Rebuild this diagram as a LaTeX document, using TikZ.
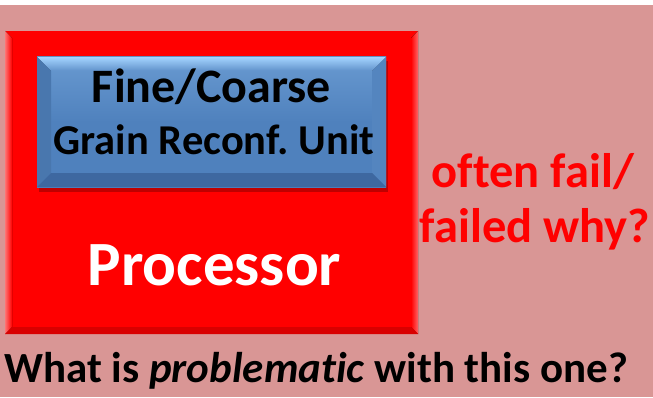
\documentclass[tikz,border=0pt]{standalone}
\usepackage{fontspec}
\setmainfont[Ligatures=NoCommon]{Carlito}
\usetikzlibrary{positioning}
\definecolor{slidepink}{RGB}{217,150,149}
\definecolor{procred}{RGB}{255,0,0}
\definecolor{unitblue}{RGB}{79,129,189}
\definecolor{unitlight}{RGB}{165,212,255}
\definecolor{unitdark}{RGB}{62,104,160}
\newcommand{\bigtxt}[1]{\fontsize{#1}{#1}\selectfont\bfseries}

\begin{document}
\begin{tikzpicture}[x=1pt, y=1pt,
        label/.style={inner sep=0pt, anchor=base, align=center},
        unittext/.style={label, text=black, font=\bigtxt{48}},
        redtext/.style={label, text=procred, font=\bigtxt{48.5}}]
        \useasboundingbox (0,0) rectangle (653,397);
        \fill[slidepink] (0,0) rectangle (653,392);
        % processor box with bevel
        \fill[procred] (5,63) rectangle (418,366);
        \fill[left color=red!55!white, right color=procred] (5,63) -- (12,70) -- (12,359) -- (5,366) -- cycle;
        \fill[left color=procred, right color=red!60!white] (418,63) -- (411,70) -- (411,359) -- (418,366) -- cycle;
        \fill[procred!85!black] (5,63) -- (12,70) -- (411,70) -- (418,63) -- cycle;
        % reconf unit box with bevel
        \fill[black, opacity=0.25] (39,205) rectangle (388,336);
        \fill[top color=unitblue!70!unitlight, bottom color=unitblue, middle color=unitblue] (37,210) rectangle (386,340);
        \fill[top color=unitlight, bottom color=unitblue!80!unitlight] (37,340) -- (51,326) -- (372,326) -- (386,340) -- cycle;
        \fill[unitblue!92!black] (37,210) -- (51,224) -- (51,326) -- (37,340) -- cycle;
        \fill[unitblue!97!white] (386,210) -- (372,224) -- (372,326) -- (386,340) -- cycle;
        \fill[unitdark] (37,210) -- (51,224) -- (372,224) -- (386,210) -- cycle;
        \node[unittext] (fine) at (211.5,294) {Fine/Coarse};
        \node[unittext, font=\bigtxt{42.5}] (grain) at (214,243) {Grain Reconf.\ Unit};
        \node[label, text=white, font=\bigtxt{63}] (proc) at (214.5,112) {Processor};
        % remarks
        \node[redtext] (fail1) at (533,210) {often fail/};
        \node[redtext] (fail2) at (535,155) {failed why?};
        \node[label, anchor=base west, font=\bigtxt{43}] (question) at (4,15) {What is \textit{problematic} with this one?};
      \end{tikzpicture}
\end{document}
